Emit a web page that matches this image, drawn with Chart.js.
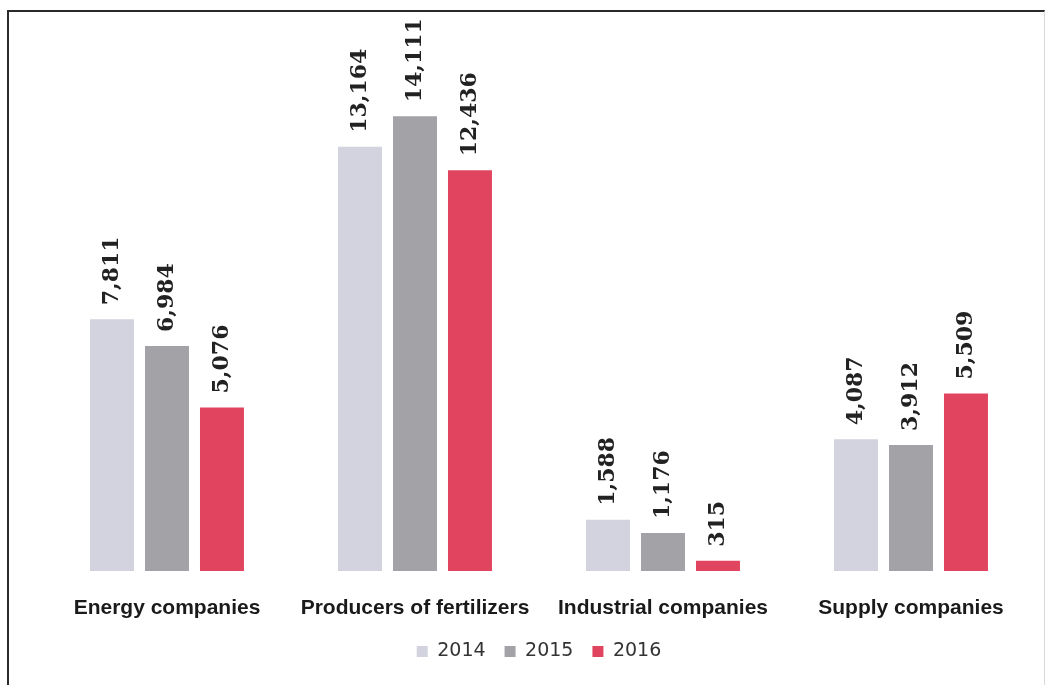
<!DOCTYPE html>
<html>
<head>
<meta charset="utf-8">
<script src="https://cdn.jsdelivr.net/npm/chart.js@4.4.0/dist/chart.umd.min.js"></script>
<style>
  html, body { margin: 0; padding: 0; background: #fff; }
  #wrap { position: relative; width: 1048px; height: 685px; overflow: hidden; }
  #frame {
    position: absolute; left: 7px; top: 10px; right: 3px; bottom: -4px;
    border-left: 2px solid #2a2a2a; border-top: 2px solid #2a2a2a;
    border-right: 1px solid #d8d8d8;
    pointer-events: none;
  }
  canvas { position: absolute; left: 0; top: 0; }
</style>
</head>
<body>
<div id="wrap">
  <canvas id="chart" width="1048" height="685"></canvas>
  <div id="frame"></div>
</div>
<script>
// categories and yearly values
const categories = ['Energy companies', 'Producers of fertilizers', 'Industrial companies', 'Supply companies'];
const years = ['2014', '2015', '2016'];
const values2014 = [7811, 13164, 1588, 4087];
const values2015 = [6984, 14111, 1176, 3912];
const values2016 = [5076, 12436, 315, 5509];
const barColors = ['#d3d3df', '#a2a2a7', '#e1445f'];

const FONT = "'Liberation Sans', Arial, sans-serif";

// rotated value labels above each bar
const valueLabels = {
  id: 'valueLabels',
  afterDatasetsDraw(chart) {
    const ctx = chart.ctx;
    ctx.save();
    ctx.fillStyle = '#222';
    ctx.font = "bold 22px 'DejaVu Serif', serif";
    ctx.textAlign = 'left';
    ctx.textBaseline = 'middle';
    chart.data.datasets.forEach((ds, i) => {
      chart.getDatasetMeta(i).data.forEach((bar, j) => {
        ctx.save();
        ctx.translate(bar.x, bar.y - 14);
        ctx.rotate(-Math.PI / 2);
        ctx.fillText(ds.data[j].toLocaleString('en-US'), 0, 0);
        ctx.restore();
      });
    });
    ctx.restore();
  }
};

const seriesValues = [values2014, values2015, values2016];

const chart = new Chart(document.getElementById('chart').getContext('2d'), {
  type: 'bar',
  data: {
    labels: categories,
    datasets: years.map((y, i) => ({
      label: y,
      data: seriesValues[i],
      backgroundColor: barColors[i],
      borderWidth: 0,
      categoryPercentage: 0.665,
      barPercentage: 0.8
    }))
  },
  options: {
    responsive: false,
    animation: false,
    events: [],
    layout: { padding: { top: 20, left: 43, right: 13, bottom: 14 } },
    plugins: {
      legend: {
        position: 'bottom',
        labels: {
          color: '#333',
          font: { family: "'DejaVu Sans', sans-serif", size: 19 },
          boxWidth: 11,
          boxHeight: 11,
          padding: 19
        }
      },
      tooltip: { enabled: false }
    },
    scales: {
      x: {
        grid: { display: false },
        border: { display: false },
        ticks: { color: '#1a1a1a', font: { family: FONT, size: 21, weight: 'bold' }, padding: 17, maxRotation: 0 },
        afterFit(scale) { scale.height = 52; }
      },
      y: {
        display: false,
        min: 0,
        max: 17100
      }
    }
  },
  plugins: [valueLabels]
});
</script>
</body>
</html>
